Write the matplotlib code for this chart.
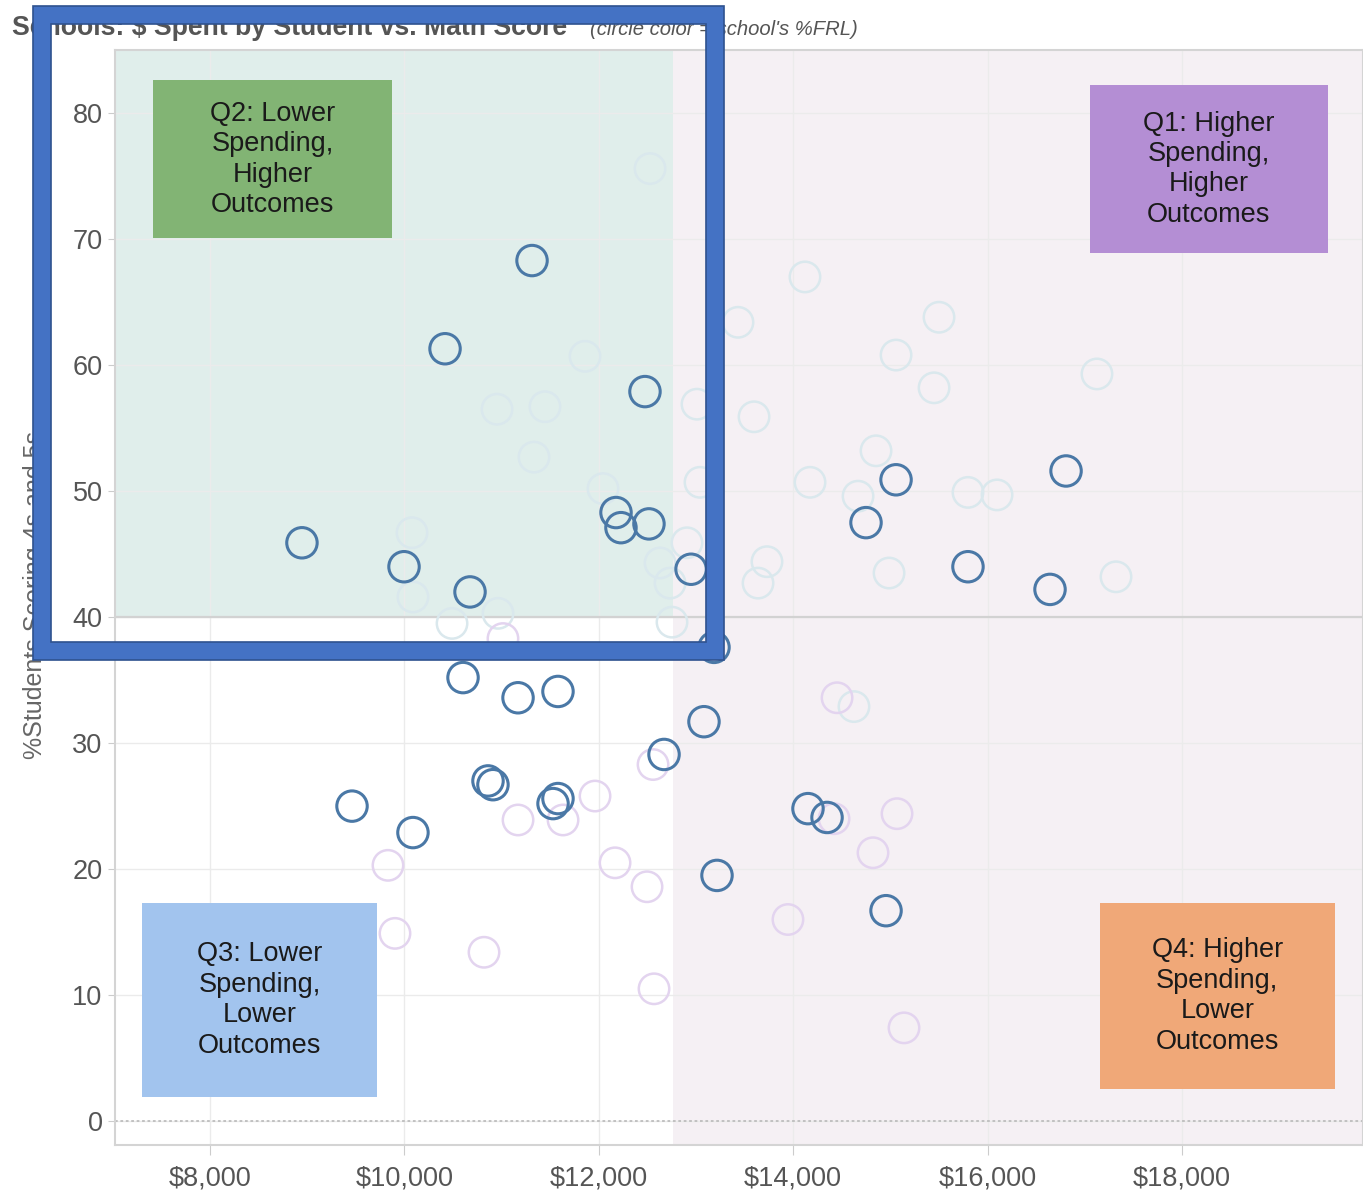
import matplotlib
matplotlib.use('Agg')
import matplotlib.pyplot as plt
import matplotlib.patches as mpatches
from matplotlib.ticker import FuncFormatter

plt.rcParams['font.family'] = ['Liberation Sans', 'DejaVu Sans']

# highlighted schools (dark circles): spend per student, % scoring 4s and 5s
hi_spend = [11313, 10418, 12475, 8946, 9996, 10675, 12177, 12228, 12516, 12949,
            13185, 10603, 11169, 11580, 13082, 12671, 10860, 10911, 9461, 10088,
            11529, 11580, 13216, 14152, 14348, 14955, 14749, 15058, 15798, 16642, 16807]
hi_score = [68.3, 61.3, 57.9, 45.9, 44.0, 42.0, 48.3, 47.1, 47.4, 43.8,
            37.6, 35.2, 33.6, 34.1, 31.7, 29.1, 27.0, 26.7, 25.0, 22.9,
            25.2, 25.6, 19.5, 24.8, 24.1, 16.7, 47.5, 50.9, 44.0, 42.2, 51.6]

# faded schools, low %FRL colour
lo_frl_spend = [12527, 14121, 13432, 15500, 11858, 15058, 15449, 17125, 10953, 11446,
                13010, 13597, 11333, 12043, 13041, 14173, 14667, 14852, 15798, 16097,
                10078, 10088, 10490, 10963, 12907, 12630, 12733, 12753, 13730, 13638,
                14986, 17321, 14625]
lo_frl_score = [75.6, 67.0, 63.4, 63.8, 60.7, 60.8, 58.2, 59.3, 56.5, 56.7,
                56.9, 55.9, 52.7, 50.2, 50.7, 50.7, 49.6, 53.2, 49.9, 49.7,
                46.7, 41.6, 39.5, 40.3, 45.9, 44.3, 42.7, 39.6, 44.4, 42.7,
                43.5, 43.2, 32.9]

# faded schools, high %FRL colour
hi_frl_spend = [9831, 9903, 10819, 11169, 11632, 11961, 12167, 12496, 12568, 12558,
                11014, 14451, 15068, 14821, 13946, 15140, 14420]
hi_frl_score = [20.3, 14.9, 13.4, 23.9, 23.9, 25.8, 20.5, 18.6, 10.5, 28.3,
                38.3, 33.6, 24.4, 21.3, 16.0, 7.4, 24.0]

x_ticks = [8000, 10000, 12000, 14000, 16000, 18000]
y_ticks = [0, 10, 20, 30, 40, 50, 60, 70, 80]

split_spend = 12765   # average spending
split_score = 40

quadrants = [
    ("Q2: Lower\nSpending,\nHigher\nOutcomes", '#82b474', (0.0304, 0.828, 0.1916, 0.1446)),
    ("Q1: Higher\nSpending,\nHigher\nOutcomes", '#b48ed4', (0.781, 0.8146, 0.191, 0.1534)),
    ("Q3: Lower\nSpending,\nLower\nOutcomes", '#a2c4ee', (0.0216, 0.0438, 0.1883, 0.1772)),
    ("Q4: Higher\nSpending,\nLower\nOutcomes", '#f0a878', (0.789, 0.0511, 0.1886, 0.1699)),
]

fig = plt.figure(figsize=(13.63, 11.94), dpi=100)
ax = fig.add_axes([0.0844, 0.041, 0.9156, 0.917])

x_lo, x_hi = 7023, 19862
y_lo, y_hi = -1.9, 85.0
ax.set_xlim(x_lo, x_hi)
ax.set_ylim(y_lo, y_hi)

# quadrant shading
ax.add_patch(mpatches.Rectangle((x_lo, split_score), split_spend - x_lo, y_hi - split_score,
                                facecolor='#e0eeeb', edgecolor='none', zorder=0))
ax.add_patch(mpatches.Rectangle((split_spend, y_lo), x_hi - split_spend, y_hi - y_lo,
                                facecolor='#f5f0f4', edgecolor='none', zorder=0))

ax.set_xticks(x_ticks)
ax.set_yticks(y_ticks)
ax.xaxis.set_major_formatter(FuncFormatter(lambda v, p: '${:,.0f}'.format(v)))
ax.grid(True, color='#ebebeb', linewidth=1.0, zorder=1)
ax.set_axisbelow(True)
ax.tick_params(axis='both', labelsize=19.5, labelcolor='#555555', color='#cccccc')
ax.tick_params(axis='x', length=7, pad=8)
ax.tick_params(axis='y', length=5, pad=4)
for s in ax.spines.values():
    s.set_color('#d4d4d4')
    s.set_linewidth(1.5)

ax.axhline(split_score, color='#d2d2d2', linewidth=1.6, zorder=1.5)
ax.axhline(0, color='#bdbdbd', linewidth=1.3, linestyle=(0, (1.5, 1.5)), zorder=1.5)

ax.scatter(lo_frl_spend, lo_frl_score, s=480, facecolors='none', edgecolors='#dae8ed',
           linewidths=1.8, zorder=2)
ax.scatter(hi_frl_spend, hi_frl_score, s=480, facecolors='none', edgecolors='#e3d4ef',
           linewidths=1.8, zorder=2)
ax.scatter(hi_spend, hi_score, s=480, facecolors='none', edgecolors='#4a78a6',
           linewidths=2.2, zorder=3)

for label, col, (bx, by, bw, bh) in quadrants:
    ax.add_patch(mpatches.Rectangle((bx, by), bw, bh, transform=ax.transAxes,
                                    facecolor=col, edgecolor='none', zorder=4))
    ax.text(bx + bw / 2, by + bh / 2, label, transform=ax.transAxes, ha='center', va='center',
            fontsize=19.5, color='#1a1a1a', linespacing=1.22, zorder=5)

# titles
fig.text(0.0088, 0.9765, "Schools: $ Spent by Student vs. Math Score", fontsize=19.2,
         fontweight='bold', color='#555555', va='center')
fig.text(0.433, 0.9755, "(circle color = school's %FRL)", fontsize=14.6, style='italic',
         color='#555555', va='center')
fig.text(0.0257, 0.5017, "%Students Scoring 4s and 5s", rotation=90, fontsize=18,
         color='#666666', ha='center', va='center')

# blue highlight frame drawn over the chart
W, H = 1363.0, 1194.0
def frame(x0, y0, x1, y1, lw, col):
    r = mpatches.Rectangle((x0 / W, 1 - y1 / H), (x1 - x0) / W, (y1 - y0) / H,
                           transform=fig.transFigure, fill=False, edgecolor=col,
                           linewidth=lw, joinstyle='miter', zorder=10)
    fig.patches.append(r)

frame(42, 15, 715, 651, 13.0, '#4472c4')
frame(33, 6, 724, 660, 1.2, '#2f528f')
frame(51, 24, 706, 642, 1.2, '#2f528f')

fig.savefig('out.png', dpi=100)
